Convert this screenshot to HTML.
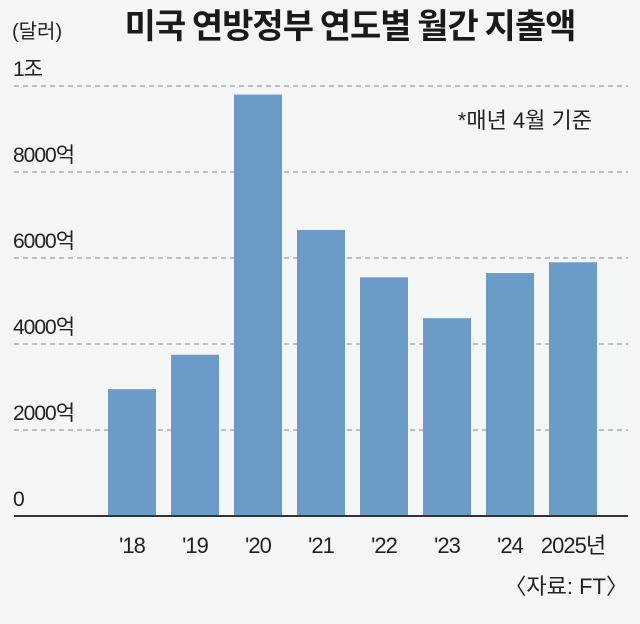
<!DOCTYPE html>
<html><head><meta charset="utf-8"><style>
html,body{margin:0;padding:0;background:#f4f5f5;}
svg{display:block;font-family:"Liberation Sans","Noto Sans CJK KR",sans-serif;}
</style></head><body>
<svg id="chart" width="640" height="624" viewBox="0 0 640 624" xmlns="http://www.w3.org/2000/svg">
<rect width="640" height="624" fill="#f4f5f5"/>
<text x="350" y="38" text-anchor="middle" font-size="34" font-weight="bold" fill="#1a1a1a" font-family="Noto Sans CJK KR, sans-serif" letter-spacing="-1">미국 연방정부 연도별 월간 지출액</text>
<text x="12" y="38" font-size="20" fill="#222">(달러)</text>
<text x="592" y="128" text-anchor="end" font-size="22" fill="#222">*매년 4월 기준</text>
<g id="grid"></g><g id="bars"></g><g id="xlabels"></g><g id="ylabels"></g>
<line x1="14" x2="628" y1="516" y2="516" stroke="#333" stroke-width="2"/>
<text x="628" y="594" text-anchor="end" font-size="22" fill="#222">〈자료: FT〉</text>
</svg>
<script>
const categories = ["'18","'19","'20","'21","'22","'23","'24","2025년"];
const values = [2950, 3750, 9800, 6650, 5550, 4600, 5650, 5900];
const tickValues = [0, 2000, 4000, 6000, 8000, 10000];
const tickLabels = ["0","2000억","4000억","6000억","8000억","1조"];
const NS="http://www.w3.org/2000/svg";
const y0=516, yPer=86/2000;
function yScale(v){return y0 - v*yPer;}
function xScale(i){return 108 + i*63;}
const bw=48;
const grid=document.getElementById('grid'), bars=document.getElementById('bars'), xl=document.getElementById('xlabels'), yl=document.getElementById('ylabels');
tickValues.forEach((t,i)=>{
  const y=yScale(t);
  if(t>0){
    const l=document.createElementNS(NS,'line');
    l.setAttribute('x1',14);l.setAttribute('x2',628);l.setAttribute('y1',y);l.setAttribute('y2',y);
    l.setAttribute('stroke','#888');l.setAttribute('stroke-dasharray','5 4');l.setAttribute('stroke-width','1');
    
    
    grid.appendChild(l);
  }
  const tx=document.createElementNS(NS,'text');
  tx.setAttribute('x',13);tx.setAttribute('y',y-10);tx.setAttribute('font-size','21');tx.setAttribute('fill','#222');tx.setAttribute('letter-spacing','-1');
  tx.textContent=tickLabels[i];
  
  
  yl.appendChild(tx);
});
categories.forEach((c,i)=>{
  const r=document.createElementNS(NS,'rect');
  const y=yScale(values[i]);
  r.setAttribute('x',xScale(i));r.setAttribute('y',y);r.setAttribute('width',bw);r.setAttribute('height',y0-y);r.setAttribute('fill','#6b9bc7');
  
  
  bars.appendChild(r);
  const t=document.createElementNS(NS,'text');
  t.setAttribute('x',xScale(i)+bw/2);t.setAttribute('y',553);t.setAttribute('text-anchor','middle');t.setAttribute('font-size','22');t.setAttribute('fill','#222');t.setAttribute('letter-spacing','-1');
  t.textContent=c;
  
  
  xl.appendChild(t);
});
</script>
</body></html>
